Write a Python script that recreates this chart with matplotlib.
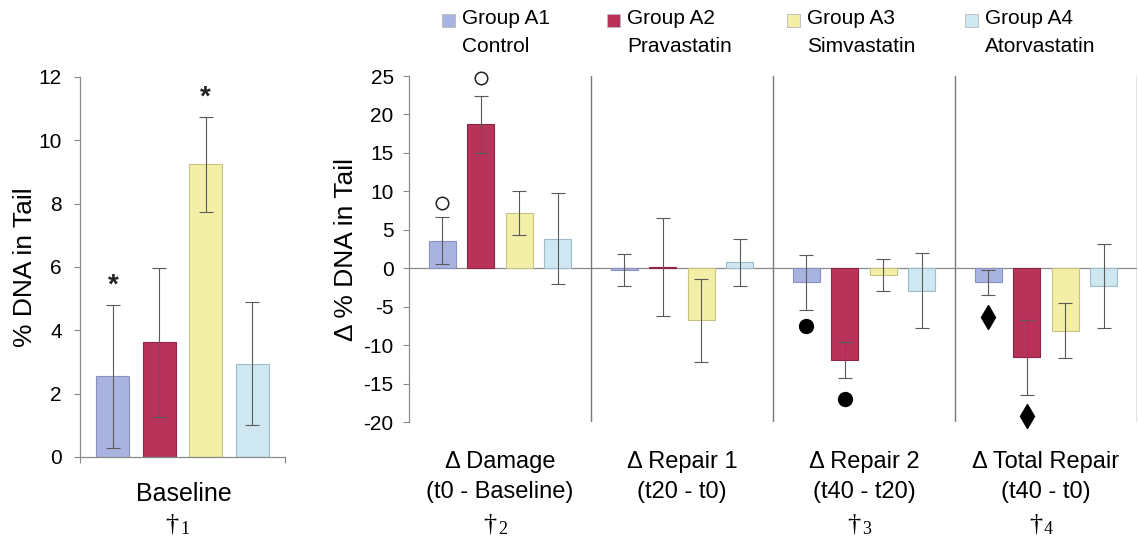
import matplotlib
matplotlib.use("Agg")
import matplotlib.pyplot as plt
from matplotlib.patches import Rectangle
import numpy as np

plt.rcParams['font.family'] = ['Liberation Sans', 'DejaVu Sans']
plt.rcParams['axes.unicode_minus'] = False

# ---------------- data ----------------
groups = ["Group A1", "Group A2", "Group A3", "Group A4"]
treatments = ["Control", "Pravastatin", "Simvastatin", "Atorvastatin"]
colors = ["#a9b3df", "#b8325a", "#f3efa6", "#cfe7f0"]
edges = ["#8891c2", "#8f2444", "#c8c386", "#9dbccb"]

baseline_mean = [2.55, 3.62, 9.25, 2.95]
baseline_err = [2.25, 2.35, 1.5, 1.95]
baseline_star = [5.4, None, 11.35, None]

delta_categories = ["Δ Damage\n(t0 - Baseline)", "Δ Repair 1\n(t20 - t0)",
                    "Δ Repair 2\n(t40 - t20)", "Δ Total Repair\n(t40 - t0)"]
delta_daggers = ["2", None, "3", "4"]

delta_A1 = [3.6, -0.25, -1.85, -1.85]
delta_A2 = [18.7, 0.15, -11.9, -11.6]
delta_A3 = [7.2, -6.75, -0.85, -8.1]
delta_A4 = [3.85, 0.75, -2.9, -2.3]
err_A1 = [3.1, 2.1, 3.6, 1.6]
err_A2 = [3.7, 6.4, 2.35, 4.9]
err_A3 = [2.85, 5.4, 2.1, 3.6]
err_A4 = [5.9, 3.1, 4.9, 5.5]

# significance markers: (category index, group index, y value, marker)
sig_marks = [
    (0, 0, 8.5, "open"), (0, 1, 24.8, "open"),
    (2, 0, -7.5, "filled"), (2, 1, -17.0, "filled"),
    (3, 0, -6.35, "diamond"), (3, 1, -19.2, "diamond"),
]

W, H = 1139, 544
fig = plt.figure(figsize=(W / 100, H / 100), dpi=100)
fig.patch.set_facecolor("white")

def px_axes(x0, x1, ytop, ybot):
    return fig.add_axes([x0 / W, 1 - ybot / H, (x1 - x0) / W, (ybot - ytop) / H])

spine_c = "#8a8a8a"
err_c = "#5a5a5a"

# ---------------- left panel ----------------
axL = px_axes(80, 285, 77, 457)
offL = np.array([-0.34, -0.113, 0.113, 0.34])
for i in range(4):
    axL.bar(0.5 + offL[i], baseline_mean[i], width=0.161, color=colors[i],
            edgecolor=edges[i], linewidth=0.8, zorder=2)
    axL.errorbar(0.5 + offL[i], baseline_mean[i], yerr=baseline_err[i],
                 fmt="none", ecolor=err_c, elinewidth=0.8, capsize=5,
                 capthick=0.8, zorder=3)
    if baseline_star[i] is not None:
        axL.text(0.5 + offL[i], baseline_star[i], "*", ha="center", va="center",
                 fontsize=20, fontweight="bold", color="#222222")
axL.set_xlim(0, 1)
axL.set_ylim(0, 12)
axL.set_yticks(np.arange(0, 13, 2))
axL.set_xticks([0, 1])
axL.set_xticklabels([])
for s in ["top", "right"]:
    axL.spines[s].set_visible(False)
for s in ["left", "bottom"]:
    axL.spines[s].set_color(spine_c)
    axL.spines[s].set_linewidth(0.9)
axL.tick_params(axis="y", length=4, color=spine_c, labelsize=15, pad=9)
axL.tick_params(axis="x", length=4, color=spine_c, direction="out")
axL.set_ylabel("% DNA in Tail", fontsize=19, labelpad=1)
axL.set_facecolor("none")

# ---------------- right panel ----------------
axR = px_axes(409, 1137, 76, 422)
deltas = [delta_A1, delta_A2, delta_A3, delta_A4]
errs = [err_A1, err_A2, err_A3, err_A4]
offR = np.array([-0.318, -0.106, 0.106, 0.318])
cat_x = np.arange(4) + 0.5
for g in range(4):
    axR.bar(cat_x + offR[g], deltas[g], width=0.148, color=colors[g],
            edgecolor=edges[g], linewidth=0.8, zorder=2)
    axR.errorbar(cat_x + offR[g], deltas[g], yerr=errs[g], fmt="none",
                 ecolor=err_c, elinewidth=0.8, capsize=5, capthick=0.8, zorder=3)
axR.axhline(0, color=spine_c, linewidth=0.9, zorder=1)
for xv in [1, 2, 3, 4]:
    axR.axvline(xv, color="#7a7a7a", linewidth=1.0, zorder=1)

for c, g, yv, kind in sig_marks:
    xx = cat_x[c] + offR[g]
    if kind == "open":
        axR.plot(xx, yv, marker="o", ms=9, mfc="white", mec="#222222", mew=1.1,
                 zorder=4, clip_on=False)
    elif kind == "filled":
        axR.plot(xx, yv, marker="o", ms=10, mfc="black", mec="black",
                 zorder=4, clip_on=False)
    else:
        axR.plot(xx, yv, marker="d", ms=12, mfc="black", mec="black",
                 zorder=4, clip_on=False)

axR.set_xlim(0, 4)
axR.set_ylim(-20, 25)
axR.set_yticks(np.arange(-20, 26, 5))
axR.set_xticks([])
for s in ["top", "right", "bottom"]:
    axR.spines[s].set_visible(False)
axR.spines["left"].set_color(spine_c)
axR.spines["left"].set_linewidth(0.9)
axR.tick_params(axis="y", length=4, color=spine_c, labelsize=15, pad=7)
axR.set_ylabel("Δ % DNA in Tail", fontsize=19, labelpad=4)
axR.set_facecolor("none")

# ---------------- category labels ----------------
def px_text(x, y, s, **kw):
    fig.text(x / W, 1 - y / H, s, **kw)

px_text(184, 494, "Baseline", ha="center", va="center", fontsize=18)
def dagger(xc, y, num):
    px_text(xc - 4, y, "†", ha="center", va="center", fontsize=19,
            family="Liberation Serif")
    px_text(xc + 4, y + 5, num, ha="left", va="center", fontsize=13,
            family="Liberation Serif")
dagger(176, 524, "1")

for i, lab in enumerate(delta_categories):
    xc = 409 + (cat_x[i] / 4) * (1137 - 409)
    top, bottom = lab.split("\n")
    px_text(xc, 462, top, ha="center", va="center", fontsize=17)
    px_text(xc, 492, bottom, ha="center", va="center", fontsize=17)
    if delta_daggers[i] is not None:
        dagger(xc - 6, 524, delta_daggers[i])

# ---------------- legend ----------------
leg_sq_x = [442, 607, 787, 965]
for i in range(4):
    fig.add_artist(Rectangle((leg_sq_x[i] / W, 1 - 27 / H), 13 / W, 13 / H,
                             transform=fig.transFigure, facecolor=colors[i],
                             edgecolor="#bbbbbb", linewidth=0.6))
    px_text(leg_sq_x[i] + 20, 19, groups[i], ha="left", va="center", fontsize=15)
    px_text(leg_sq_x[i] + 20, 46, treatments[i], ha="left", va="center", fontsize=15)

fig.savefig("out.png", dpi=100, facecolor="white")
